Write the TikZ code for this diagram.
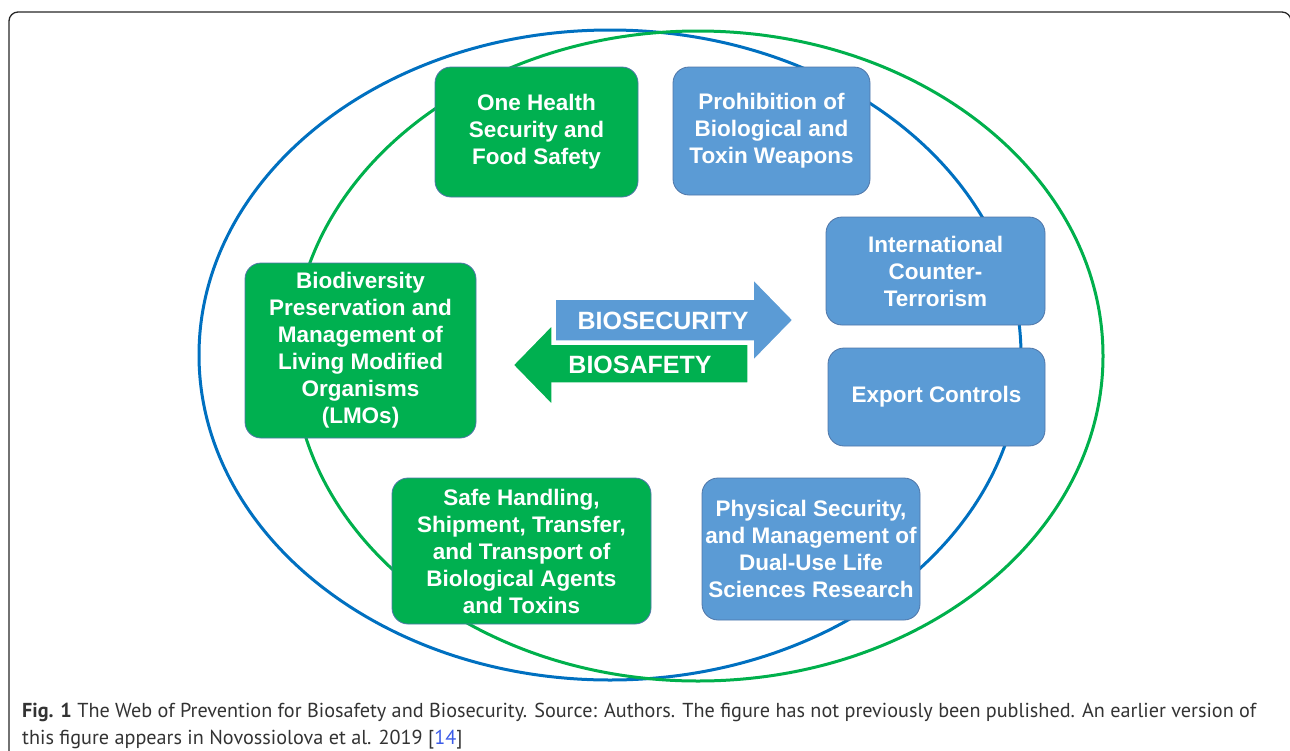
\documentclass[tikz,border=0pt]{standalone}
\usepackage{fontspec}
\setmainfont{Liberation Sans}
\newfontfamily\capfont{PT Sans}
\usepackage{tikz}

\definecolor{ogreen}{HTML}{00B050}
\definecolor{oblue}{HTML}{5B9BD5}
\definecolor{ringblue}{HTML}{0070C0}
\definecolor{ringgreen}{HTML}{00B04C}
\definecolor{boxline}{HTML}{4F76A8}
\definecolor{captext}{HTML}{333333}
\definecolor{citeblue}{HTML}{3B5BE8}

\begin{document}
\begin{tikzpicture}[x=1pt,y=-1pt,
    ring/.style={line width=3pt},
    card/.style={draw=boxline, line width=0.8pt, rounded corners=16pt, text=white,
      align=center, inner sep=0pt, font=\fontsize{22.5}{27}\selectfont\bfseries},
    greencard/.style={card, fill=ogreen},
    bluecard/.style={card, fill=oblue},
    arrowtext/.style={text=white, inner sep=0pt, font=\fontsize{25}{30}\selectfont\bfseries},
    captionline/.style={anchor=base west, inner sep=0pt, text=captext,
      font=\capfont\fontsize{20.2}{27}\selectfont}]
            \useasboundingbox (0,0) rectangle (1290,750);

            % frame
            \begin{scope}
              \clip (0,0) rectangle (1290,750);
              \draw[line width=1.3pt, black!85, rounded corners=9pt] (9,760) -- (9,12) -- (1291,12) -- (1291,760);
            \end{scope}

            % the two rings
            \draw[ring, ringblue] (610,355) ellipse [x radius=411, y radius=325];
            \draw[ring, ringgreen] (698,356) ellipse [x radius=405, y radius=325];

            % boxes
            \node[greencard, minimum width=203pt, minimum height=130pt] (health) at (536.5,132) {One Health\\Security and\\Food Safety};
            \node[bluecard, minimum width=197pt, minimum height=128pt] (weapons) at (771.5,131) {Prohibition of\\Biological and\\Toxin Weapons};
            \node[bluecard, minimum width=219pt, minimum height=108pt] (terror) at (935.5,271) {International\\Counter-\\Terrorism};
            \node[bluecard, minimum width=217pt, minimum height=98pt] (export) at (936.5,397) {Export Controls};
            \node[greencard, minimum width=231pt, minimum height=175pt] (lmo) at (360.5,350.5) {Biodiversity\\Preservation and\\Management of\\Living Modified\\Organisms\\(LMOs)};
            \node[greencard, minimum width=259pt, minimum height=146pt] (transport) at (521.5,551) {Safe Handling,\\Shipment, Transfer,\\and Transport of\\Biological Agents\\and Toxins};
            \node[bluecard, minimum width=218pt, minimum height=142pt] (dualuse) at (811,549) {Physical Security,\\and Management of\\Dual-Use Life\\Sciences Research};

            % arrows in the middle
            \path[fill=ogreen, draw=white, line width=1.5pt] (748,344) -- (552,344) -- (552,325) -- (513,365) -- (552,405) -- (552,383) -- (748,383) -- cycle;
            \path[fill=oblue, draw=white, line width=1.5pt] (555,299) -- (753,299) -- (753,279) -- (793,320) -- (753,361) -- (753,341) -- (555,341) -- cycle;
            \node[arrowtext] (biosec) at (663,321) {BIOSECURITY};
            \node[arrowtext] (biosafe) at (640,365) {BIOSAFETY};

            % caption
            \node[captionline] (cap1) at (22,717) {\textbf{Fig. 1} The Web of Prevention for Biosafety and Biosecurity. Source: Authors. The figure has not previously been published. An earlier version of};
            \node[captionline] (cap2) at (22,744) {this figure appears in Novossiolova et al. 2019 [\textcolor{citeblue}{14}]};
        \end{tikzpicture}
\end{document}
